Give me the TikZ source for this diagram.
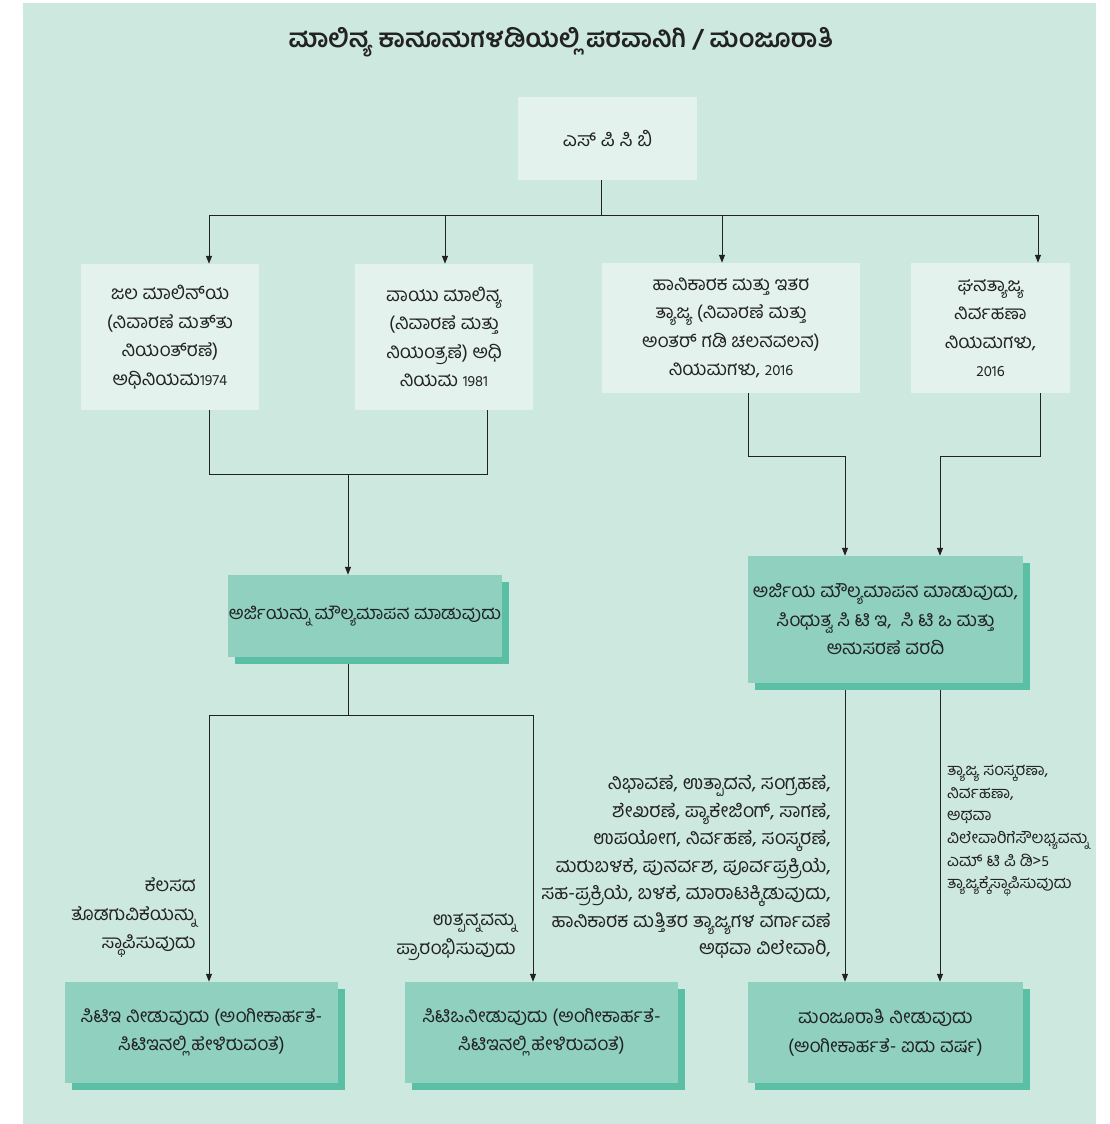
\documentclass[tikz,border=0pt]{standalone}
\usepackage{fontspec}
\newfontfamily\kn[Script=Kannada]{Hind Mysuru}
\usetikzlibrary{arrows.meta,shadows}
\definecolor{panel}{HTML}{CDE8DF}
\definecolor{lightbox}{HTML}{E3F2EC}
\definecolor{darkfill}{HTML}{8FD0BE}
\definecolor{shadowc}{HTML}{5BBFA6}
\definecolor{ink}{HTML}{222222}
\pgfdeclarelayer{back}
\pgfdeclarelayer{bg}
\pgfsetlayers{back,bg,main}
\newcommand{\dg}[1]{{\fontsize{15}{15}\selectfont #1}}
\begin{document}
\begin{tikzpicture}[x=1pt,y=-1pt,
  font=\kn\fontsize{19}{28.5}\selectfont, text=ink,
  lbox/.style={fill=lightbox, draw=none, align=center, inner sep=0pt},
  dbox/.style={fill=darkfill, draw=none, align=center, inner sep=0pt,
    drop shadow={shadow xshift=7pt, shadow yshift=-7pt, fill=shadowc, opacity=1}},
  conn/.style={draw=ink, line width=1pt},
  arr/.style={conn, -{Triangle[length=8pt,width=6pt]}},
  labr/.style={align=right, inner sep=0pt, anchor=east},
  labl/.style={align=left, inner sep=0pt, anchor=west}]
\useasboundingbox (0,0) rectangle (1109,1124);
\begin{pgfonlayer}{back}
\fill[panel] (23,3) rectangle (1096,1124);
\end{pgfonlayer}

% title
\node[font=\kn\bfseries\fontsize{25.5}{30}\selectfont] (title) at (561,42) {ಮಾಲಿನ್ಯ ಕಾನೂನುಗಳಡಿಯಲ್ಲಿ ಪರವಾನಿಗಿ / ಮಂಜೂರಾತಿ};

% top box
\node[lbox, minimum width=179pt, minimum height=83pt, font=\kn\fontsize{19.5}{28.5}\selectfont] (S) at (607.5,138.5) {ಎಸ್ ಪಿ ಸಿ ಬಿ};

% second row
\node[lbox, minimum width=178pt, minimum height=146pt] (B1) at (170,337) {ಜಲ ಮಾಲಿನ್^^^^200cಯ\\(ನಿವಾರಣೆ ಮತ್^^^^200cತು\\ನಿಯಂತ್^^^^200cರಣೆ)\\ಅಧಿನಿಯಮ\dg{1974}};
\node[lbox, minimum width=178pt, minimum height=146pt] (B2) at (444,337) {ವಾಯು ಮಾಲಿನ್ಯ\\(ನಿವಾರಣೆ ಮತ್ತು\\ನಿಯಂತ್ರಣೆ) ಅಧಿ\\ನಿಯಮ \dg{1981}};
\node[lbox, minimum width=258pt, minimum height=130pt] (B3) at (731,328) {ಹಾನಿಕಾರಕ ಮತ್ತು ಇತರ\\ತ್ಯಾಜ್ಯ (ನಿವಾರಣೆ ಮತ್ತು\\ಅಂತರ್ ಗಡಿ ಚಲನವಲನ)\\ನಿಯಮಗಳು, \dg{2016}};
\node[lbox, minimum width=159pt, minimum height=130pt] (B4) at (990.5,328) {ಘನತ್ಯಾಜ್ಯ\\ನಿರ್ವಹಣಾ\\ನಿಯಮಗಳು,\\\dg{2016}};

% middle dark boxes
\node[dbox, minimum width=274pt, minimum height=82pt, font=\kn\fontsize{18.3}{28.5}\selectfont] (A) at (365,616) {ಅರ್ಜಿಯನ್ನು ಮೌಲ್ಯಮಾಪನ ಮಾಡುವುದು};
\node[dbox, minimum width=275pt, minimum height=127pt] (M) at (885.5,619.5) {ಅರ್ಜಿಯ ಮೌಲ್ಯಮಾಪನ ಮಾಡುವುದು,\\ಸಿಂಧುತ್ವ ಸಿ ಟಿ ಇ,\ \ ಸಿ ಟಿ ಒ ಮತ್ತು\\ಅನುಸರಣೆ ವರದಿ};

% bottom dark boxes
\node[dbox, minimum width=273pt, minimum height=101pt] (C1) at (201.5,1032.5) {ಸಿಟಿಇ ನೀಡುವುದು (ಅಂಗೀಕಾರ್ಹತೆ-\\ಸಿಟಿಇನಲ್ಲಿ ಹೇಳಿರುವಂತೆ)};
\node[dbox, minimum width=273pt, minimum height=101pt] (C2) at (541.5,1032.5) {ಸಿಟಿಒನೀಡುವುದು (ಅಂಗೀಕಾರ್ಹತೆ-\\ಸಿಟಿಇನಲ್ಲಿ ಹೇಳಿರುವಂತೆ)};
\node[dbox, minimum width=275pt, minimum height=101pt] (C3) at (885.5,1032.5) {ಮಂಜೂರಾತಿ ನೀಡುವುದು\\(ಅಂಗೀಕಾರ್ಹತೆ- ಐದು ವರ್ಷ)};

% labels
\node[labr] (L1) at (196,918) {ಕೆಲಸದ\\ತೊಡಗುವಿಕೆಯನ್ನು\\ಸ್ಥಾಪಿಸುವುದು};
\node[labr] (L2) at (516,937) {ಉತ್ಪನ್ನವನ್ನು\\ಪ್ರಾರಂಭಿಸುವುದು};
\node[labr, font=\kn\fontsize{19.5}{27.5}\selectfont] (L3) at (831,867) {ನಿಭಾವಣೆ, ಉತ್ಪಾದನೆ, ಸಂಗ್ರಹಣೆ,\\ಶೇಖರಣೆ, ಪ್ಯಾಕೇಜಿಂಗ್, ಸಾಗಣೆ,\\ಉಪಯೋಗ, ನಿರ್ವಹಣೆ, ಸಂಸ್ಕರಣೆ,\\ಮರುಬಳಕೆ, ಪುನರ್ವಶ, ಪೂರ್ವಪ್ರಕ್ರಿಯೆ,\\ಸಹ-ಪ್ರಕ್ರಿಯೆ, ಬಳಕೆ, ಮಾರಾಟಕ್ಕಿಡುವುದು,\\ಹಾನಿಕಾರಕ ಮತ್ತಿತರ ತ್ಯಾಜ್ಯಗಳ ವರ್ಗಾವಣೆ\\ಅಥವಾ ವಿಲೇವಾರಿ,};
\node[labl, font=\kn\fontsize{16.5}{22.6}\selectfont] (L4) at (947,831) {ತ್ಯಾಜ್ಯ ಸಂಸ್ಕರಣಾ,\\ನಿರ್ವಹಣಾ,\\ಅಥವಾ\\ವಿಲೇವಾರಿಗೆಸೌಲಭ್ಯವನ್ನು\\ಎಮ್ ಟಿ ಪಿ ಡಿ>\dg{5}\\ತ್ಯಾಜ್ಯಕ್ಕೆಸ್ಥಾಪಿಸುವುದು};

% junction coordinates
\coordinate (j0) at (601,215);
\coordinate (t1) at (209,215);
\coordinate (t2) at (445,215);
\coordinate (t3) at (722,215);
\coordinate (t4) at (1038,215);
\coordinate (m1) at (209,474);
\coordinate (m2) at (487,474);
\coordinate (m0) at (348,474);
\coordinate (r1) at (748,456);
\coordinate (r2) at (845,456);
\coordinate (r3) at (1040,456);
\coordinate (r4) at (940,456);
\coordinate (d0) at (348,715);
\coordinate (d1) at (209,715);
\coordinate (d2) at (533,715);

\begin{pgfonlayer}{bg}
\draw[conn] (S.south -| j0) -- (j0);
\draw[conn] (t1) -- (t4);
\draw[arr] (t1) -- (t1 |- B1.north);
\draw[arr] (t2) -- (t2 |- B2.north);
\draw[arr] (t3) -- (t3 |- B3.north);
\draw[arr] (t4) -- (t4 |- B4.north);
\draw[conn] (m1 |- B1.south) -- (m1) -- (m2) -- (m2 |- B2.south);
\draw[arr] (m0) -- (m0 |- A.north);
\draw[arr] (r1 |- B3.south) -- (r1) -- (r2) -- (r2 |- M.north);
\draw[arr] (r3 |- B4.south) -- (r3) -- (r4) -- (r4 |- M.north);
\draw[conn] (d0 |- A.south) -- (d0);
\draw[conn] (d1) -- (d2);
\draw[arr] (d1) -- (d1 |- C1.north);
\draw[arr] (d2) -- (d2 |- C2.north);
\draw[arr] (r2 |- M.south) -- (r2 |- C3.north);
\draw[arr] (r4 |- M.south) -- (r4 |- C3.north);
\end{pgfonlayer}
\end{tikzpicture}
\end{document}
